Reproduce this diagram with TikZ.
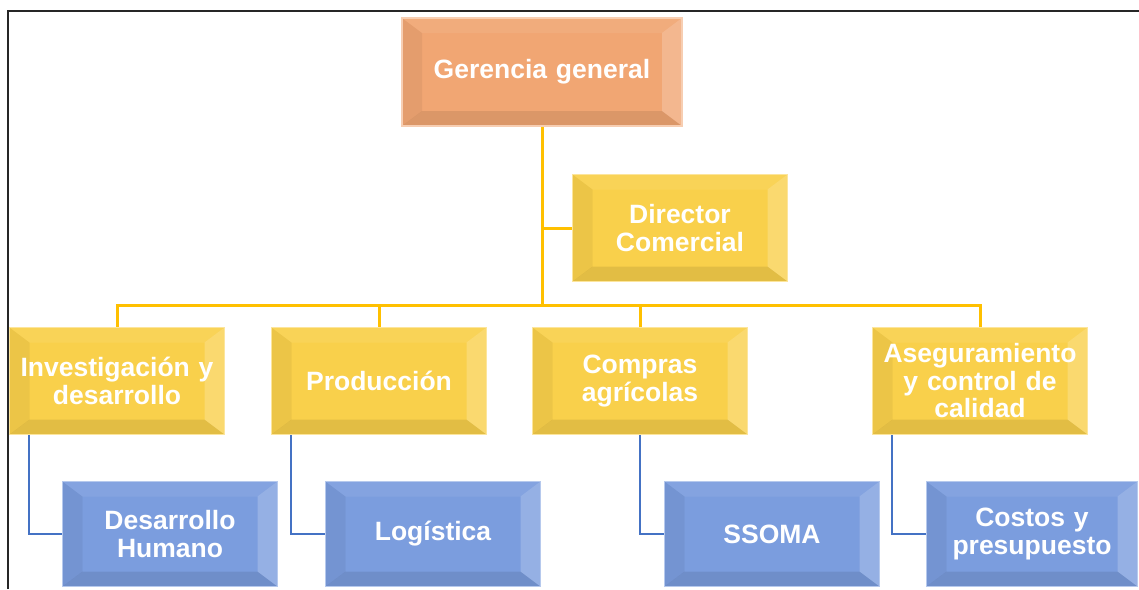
\documentclass[tikz,border=0pt]{standalone}
\usepackage{fontspec}
\setmainfont{Liberation Sans}
\usetikzlibrary{positioning,calc}

\definecolor{gerorange}{RGB}{241,166,115}
\definecolor{areayellow}{RGB}{249,208,75}
\definecolor{unitblue}{RGB}{123,157,222}
\definecolor{lineyellow}{RGB}{255,192,0}
\definecolor{lineblue}{RGB}{68,114,196}

\begin{document}
\begin{tikzpicture}[
    x=1pt, y=1pt,
    every node/.style={font={\fontsize{26.5}{27.5}\selectfont\bfseries}, text=white},
    bevel/.style={path picture={
        \path (path picture bounding box.north west) coordinate (bnw)
              (path picture bounding box.south east) coordinate (bse);
        \fill[black, opacity=.05] (bnw) -- ([xshift=20pt,yshift=-15pt]bnw) -- ([xshift=20pt,yshift=15pt]bnw |- bse) -- (bnw |- bse) -- cycle;
        \fill[black, opacity=.09] (bnw |- bse) -- ([xshift=20pt,yshift=15pt]bnw |- bse) -- ([xshift=-20pt,yshift=15pt]bse) -- (bse) -- cycle;
        \fill[white, opacity=.20] (bse) -- ([xshift=-20pt,yshift=15pt]bse) -- ([xshift=-20pt,yshift=-15pt]bse |- bnw) -- (bse |- bnw) -- cycle;
        \fill[white, opacity=.07] (bnw) -- (bse |- bnw) -- ([xshift=-20pt,yshift=-15pt]bse |- bnw) -- ([xshift=20pt,yshift=-15pt]bnw) -- cycle;
    }},
    box/.style={rectangle, inner sep=0pt, text width=205pt, align=center, minimum width=215pt, minimum height=107pt, line width=1.5pt, bevel},
    gerbox/.style={box, fill=gerorange, draw=gerorange!55!white, text width=265pt, minimum width=280pt, minimum height=108pt},
    areabox/.style={box, fill=areayellow, draw=areayellow!55!white},
    unitbox/.style={box, fill=unitblue, draw=unitblue!55!white, minimum height=105pt},
    yline/.style={draw=lineyellow, line width=3pt},
    bline/.style={draw=lineblue, line width=2.5pt}
]
    \useasboundingbox (0,0) rectangle (1139,-589);
    \draw[line width=2pt, black!85] (8,-589) -- (8,-11) -- (1139,-11);

    \node [gerbox] (gg) at (542,-72) {Gerencia general};
    \node [areabox] (dc) at (680,-228) {Director\\Comercial};

    \node [areabox] (inv) at (117,-381) {Investigación y\\desarrollo};
    \node [areabox] (prod) at (379,-381) {Producción};
    \node [areabox] (comp) at (640,-381) {Compras\\agrícolas};
    \node [areabox] (aseg) at (980,-381) {Aseguramiento\\y control de\\calidad};

    \node [unitbox] (dh) at (170,-534) {Desarrollo\\Humano};
    \node [unitbox] (log) at (433,-534) {Logística};
    \node [unitbox] (ssoma) at (772,-534) {SSOMA};
    \node [unitbox, minimum width=211pt] (cost) at (1032,-534) {Costos y\\presupuesto};

    \coordinate (hub) at (542,-305);
    \draw [yline] (gg.south) -- (hub);
    \draw [yline] (gg.south |- dc.west) -- (dc.west);
    \draw [yline] (inv.north) |- (hub) -| (aseg.north);
    \draw [yline] (prod.north) -- (prod.north |- hub);
    \draw [yline] (comp.north) -- (comp.north |- hub);

    \draw [bline] ([xshift=20pt]inv.south west) |- (dh.west);
    \draw [bline] ([xshift=20pt]prod.south west) |- (log.west);
    \draw [bline] (comp.south) |- (ssoma.west);
    \draw [bline] ([xshift=20pt]aseg.south west) |- (cost.west);
\end{tikzpicture}
\end{document}
